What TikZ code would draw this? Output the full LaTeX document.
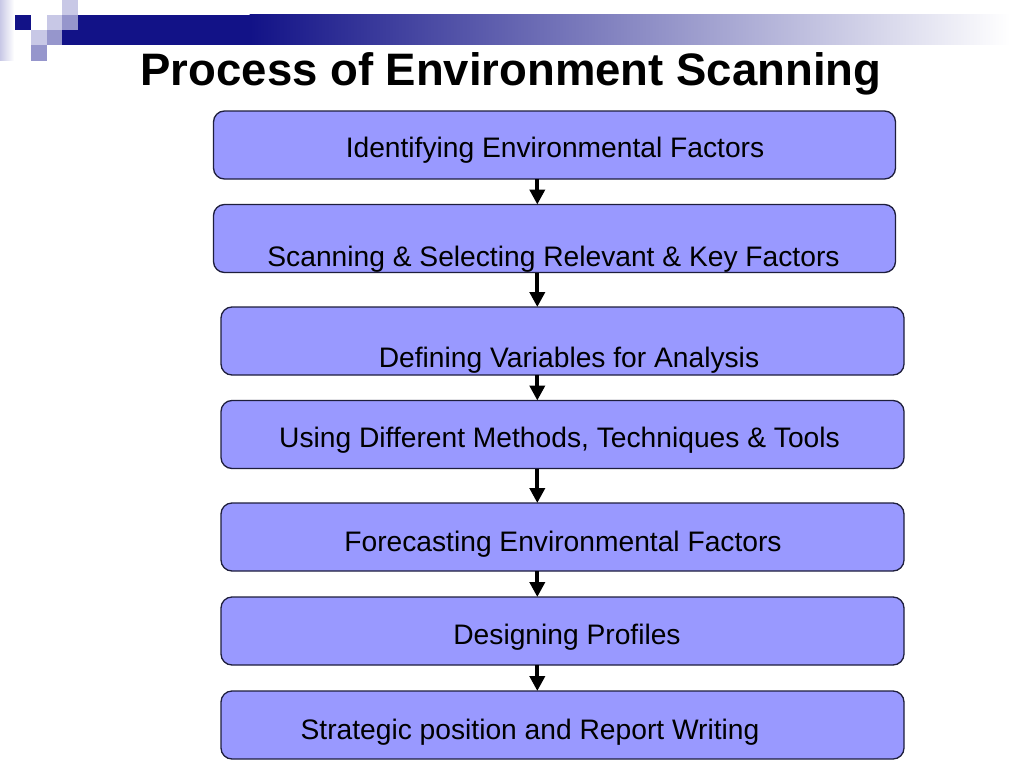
\documentclass[tikz,border=0pt]{standalone}
\usepackage{fontspec}
\setmainfont{Liberation Sans}
\usetikzlibrary{arrows.meta}
\definecolor{navyc}{RGB}{18,18,135}
\definecolor{lavlight}{RGB}{200,200,230}
\definecolor{lavmid}{RGB}{150,150,204}
\definecolor{boxfill}{RGB}{153,153,255}
\definecolor{boxline}{RGB}{30,30,60}
\tikzset{
  stepbox/.style={draw=boxline, line width=1.3pt, fill=boxfill, rounded corners=11pt,
    inner sep=0pt, outer sep=0pt, minimum height=68pt},
  boxtext/.style={anchor=base, inner sep=0pt, font=\fontsize{28.2}{34}\selectfont},
  arr/.style={line width=4.2pt, -{Triangle[width=15pt,length=15pt]}},
  sq/.style={minimum size=15.5pt, inner sep=0pt, outer sep=0pt, anchor=north west}
}
\begin{document}
\begin{tikzpicture}[x=1pt,y=-1pt]
\useasboundingbox (0,0) rectangle (1024,768);
\fill[white] (0,0) rectangle (1024,768);
% header decoration
\shade[left color=lavlight, right color=white] (0,0) rectangle (14,60);
\fill[navyc] (62,15) rectangle (250,45);
\shade[left color=navyc, right color=white] (249.5,15) rectangle (1010,45);
\node[sq, fill=lavlight] (s1) at (62,0) {};
\node[sq, fill=navyc] (s2) at (15,15) {};
\node[sq, fill=lavlight] (s3) at (46.5,15) {};
\node[sq, fill=lavmid] (s4) at (62,15) {};
\node[sq, fill=lavlight] (s5) at (31,30) {};
\node[sq, fill=lavmid] (s6) at (46.5,30) {};
\node[sq, fill=lavmid] (s7) at (31,45) {};
% title
\node[anchor=base, inner sep=0pt, font=\bfseries\fontsize{45.5}{54}\selectfont] (title) at (511,85) {Process of Environment Scanning};
% boxes
\node[stepbox, minimum width=682pt] (b1) at (554.5,145) {};
\node[stepbox, minimum width=682pt] (b2) at (554.5,238.5) {};
\node[stepbox, minimum width=683pt] (b3) at (562.5,341) {};
\node[stepbox, minimum width=683pt] (b4) at (562.5,434.5) {};
\node[stepbox, minimum width=683pt] (b5) at (562.5,537) {};
\node[stepbox, minimum width=683pt] (b6) at (562.5,631) {};
\node[stepbox, minimum width=683pt] (b7) at (562.5,725) {};
% texts
\node[boxtext] (t1) at (555,157) {Identifying Environmental Factors};
\node[boxtext] (t2) at (553.5,266) {Scanning \& Selecting Relevant \& Key Factors};
\node[boxtext] (t3) at (569,367) {Defining Variables for Analysis};
\node[boxtext] (t4) at (559.5,447) {Using Different Methods, Techniques \& Tools};
\node[boxtext] (t5) at (563,551) {Forecasting Environmental Factors};
\node[boxtext] (t6) at (567,644) {Designing Profiles};
\node[boxtext] (t7) at (530,739) {Strategic position and Report Writing};
% arrows
\coordinate (ax) at (537.3,0);
\draw[arr] (b1.south -| ax) -- (b2.north -| ax);
\draw[arr] (b2.south -| ax) -- (b3.north -| ax);
\draw[arr] (b3.south -| ax) -- (b4.north -| ax);
\draw[arr] (b4.south -| ax) -- (b5.north -| ax);
\draw[arr] (b5.south -| ax) -- (b6.north -| ax);
\draw[arr] (b6.south -| ax) -- (b7.north -| ax);
\end{tikzpicture}
\end{document}
